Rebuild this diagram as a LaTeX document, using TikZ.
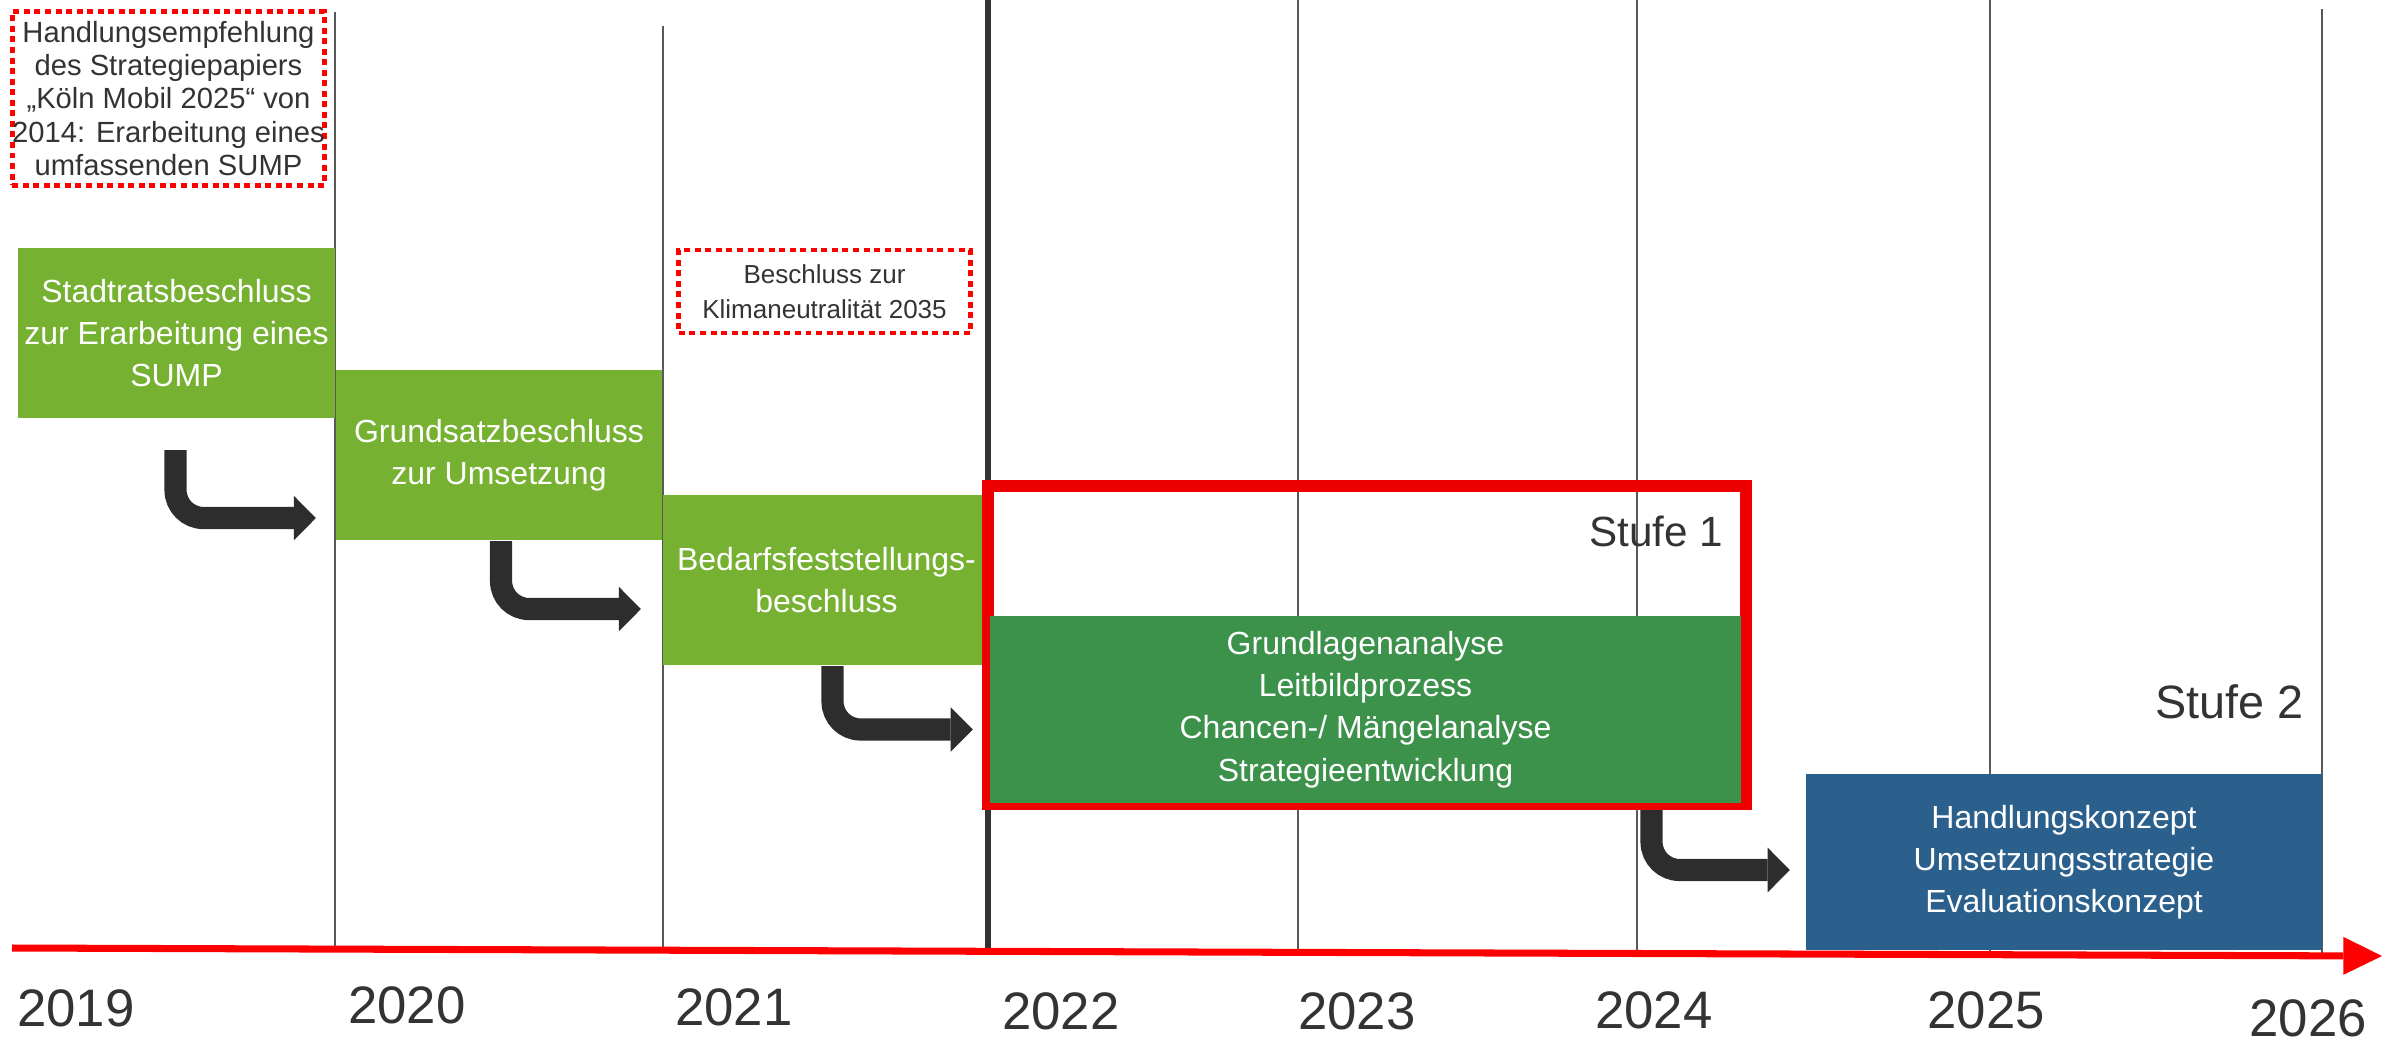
\documentclass[tikz,border=0pt]{standalone}
\usepackage{fontspec}
\setmainfont{Liberation Sans}
\usetikzlibrary{arrows.meta,calc}
\definecolor{hellgruen}{HTML}{76B132}
\definecolor{dunkelgruen}{HTML}{3C914B}
\definecolor{stufeblau}{HTML}{2B608C}
\definecolor{pfeilgrau}{HTML}{2D2D2D}
\definecolor{textgrau}{HTML}{333333}
\definecolor{rahmenrot}{HTML}{EE0000}
\begin{document}
\begin{tikzpicture}[x=0.01cm,y=-0.01cm,
		jahrlinie/.style={draw=black!65,line width=0.4pt},
		feld/.style={inner sep=0pt,outer sep=0pt,align=center,text=white,font=\fontsize{9.1}{12}\selectfont},
		hinweis/.style={draw=red,line width=1.4pt,dash pattern=on 1.7pt off 1.3pt,align=center,inner sep=0pt,text=textgrau},
		uebergang/.style={draw=pfeilgrau,line width=6.3pt,rounded corners=8pt,-{Triangle[length=6.3pt,width=12.7pt,line width=0pt]}},
		jahr/.style={text=textgrau,inner sep=0pt,font=\fontsize{15}{18}\selectfont},
		stufe/.style={text=textgrau,inner sep=0pt,anchor=east}]
			\useasboundingbox (0,0) rectangle (2384,1042);
			\draw[jahrlinie] (335,12) -- (335,948);
			\draw[jahrlinie] (663,26) -- (663,949);
			\draw[jahrlinie] (1298,0) -- (1298,950);
			\draw[jahrlinie] (1637,0) -- (1637,951);
			\draw[jahrlinie] (1990,0) -- (1990,953);
			\draw[jahrlinie] (2322,9) -- (2322,954);
			\draw[textgrau,line width=1.7pt] (988,0) -- (988,950);
			\draw[red,line width=2pt,-{Triangle[length=11pt,width=10.8pt,line width=0pt]}] (12,948) -- (2382,956);
			\node[hinweis,minimum width=3.07cm,minimum height=1.73cm,font=\fontsize{8.3}{9.5}\selectfont] (empfehlung) at (168.5,98.5) {Handlungsempfehlung\\des Strategiepapiers\\„Köln Mobil 2025“ von\\2014: Erarbeitung eines\\umfassenden SUMP};
			\node[hinweis,minimum width=2.91cm,minimum height=0.83cm,font=\fontsize{7.4}{10}\selectfont] (klima) at (824.5,291.5) {Beschluss zur\\Klimaneutralität 2035};
			\node[feld,fill=hellgruen,minimum width=3.17cm,minimum height=1.70cm] (stadtrat) at (176.5,333) {Stadtratsbeschluss\\zur Erarbeitung eines\\SUMP};
			\node[feld,fill=hellgruen,minimum width=3.26cm,minimum height=1.70cm] (grundsatz) at (499,455) {Grundsatzbeschluss\\zur Umsetzung};
			\node[feld,fill=hellgruen,minimum width=3.27cm,minimum height=1.70cm] (bedarf) at (826.5,580) {Bedarfsfeststellungs-\\beschluss};
			\node[draw=rahmenrot,line width=3.4pt,inner sep=0pt,minimum width=7.58cm,minimum height=3.18cm] (stufe1) at (1367,645) {};
			\node[stufe,font=\fontsize{12}{14}\selectfont] (s1) at (1724,531) {Stufe 1};
			\node[feld,fill=dunkelgruen,minimum width=7.51cm,minimum height=1.87cm] (analyse) at (1365.5,709.5) {Grundlagenanalyse\\Leitbildprozess\\Chancen-/ Mängelanalyse\\Strategieentwicklung};
			\node[stufe,font=\fontsize{13.3}{16}\selectfont] (s2) at (2304,702) {Stufe 2};
			\node[feld,fill=stufeblau,minimum width=5.16cm,minimum height=1.76cm] (konzept) at (2064,862) {Handlungskonzept\\Umsetzungsstrategie\\Evaluationskonzept};
			\draw[uebergang] ($(stadtrat.south)+(-1,32)$) |- ($(grundsatz.south west)+(-20,-22)$);
			\draw[uebergang] ($(grundsatz.south)+(2,1)$) |- ($(bedarf.south west)+(-22,-56)$);
			\draw[uebergang] ($(bedarf.south)+(6,1)$) |- ($(analyse.west)+(-17,20)$);
			\draw[uebergang] ($(stufe1.south)+(284.5,0)$) |- ($(konzept.west)+(-16,8)$);
			\node[jahr] (j2019) at (76,1008) {2019};
			\node[jahr] (j2020) at (407,1005) {2020};
			\node[jahr] (j2021) at (734,1007) {2021};
			\node[jahr] (j2022) at (1061,1011) {2022};
			\node[jahr] (j2023) at (1357,1011) {2023};
			\node[jahr] (j2024) at (1654,1010) {2024};
			\node[jahr] (j2025) at (1986,1010) {2025};
			\node[jahr] (j2026) at (2308,1018) {2026};
		\end{tikzpicture}
\end{document}
